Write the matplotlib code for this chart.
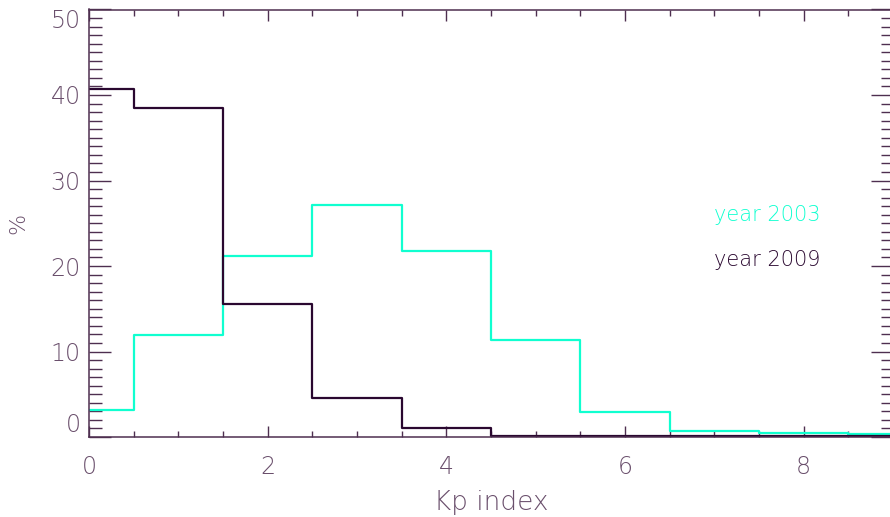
import matplotlib
matplotlib.use("Agg")
import matplotlib.pyplot as plt
from matplotlib.ticker import MultipleLocator

kp = [0, 1, 2, 3, 4, 5, 6, 7, 8, 9]
pct_2003 = [3.2, 11.9, 21.2, 27.1, 21.7, 11.3, 2.9, 0.75, 0.5, 0.35]
pct_2009 = [40.7, 38.5, 15.6, 4.6, 1.05, 0.15, 0.15, 0.15, 0.15, 0.15]
xticks = [0, 2, 4, 6, 8]
yticks = [0, 10, 20, 30, 40, 50]
labels = ["year 2003", "year 2009"]

axis_col = "#4e2f50"
text_col = "#6a4f6c"
c2003 = "#10ffd0"
c2009 = "#2a0830"

plt.rcParams['font.family'] = ['DejaVu Sans']

fig = plt.figure(figsize=(8.9, 5.17), dpi=100)
ax = fig.add_axes([89/890, 1 - 437/517, (893 - 89)/890, (437 - 9.5)/517])

ax.step(kp, pct_2003, where='mid', color=c2003, lw=1.6)
ax.step(kp, pct_2009, where='mid', color=c2009, lw=1.6)

ax.set_xlim(0, 9)
ax.set_ylim(0, 50)
ax.xaxis.set_major_locator(MultipleLocator(2))
ax.xaxis.set_minor_locator(MultipleLocator(0.5))
ax.yaxis.set_major_locator(MultipleLocator(10))
ax.yaxis.set_minor_locator(MultipleLocator(1))
ax.set_xticks(xticks)
ax.set_yticks(yticks)
ax.tick_params(which='both', direction='in', top=True, right=True, color=axis_col, width=1.0,
               labelcolor=text_col, labelsize=17)
ax.tick_params(axis='x', which='major', length=8, pad=13)
ax.tick_params(axis='x', which='minor', length=4)
ax.tick_params(axis='y', which='major', length=16, pad=6)
ax.tick_params(axis='y', which='minor', length=9)
for lab in ax.get_xticklabels() + ax.get_yticklabels():
    lab.set_fontweight('light')
ylabs = ax.get_yticklabels()
ylabs[0].set_va('bottom')
ylabs[-1].set_va('top')
for s in ax.spines.values():
    s.set_color(axis_col)
    s.set_linewidth(1.1)

ax.set_xlabel("Kp index", color=text_col, fontsize=19, fontweight='light', labelpad=8)
ax.set_ylabel("%", color=text_col, fontsize=16, fontweight='light')
ax.yaxis.set_label_coords(-0.076, 0.5)

ax.text(7.0, 26.0, labels[0], color=c2003, fontsize=15, fontweight='light', va='center', ha='left')
ax.text(7.0, 20.7, labels[1], color=c2009, fontsize=15, fontweight='light', va='center', ha='left')

fig.savefig("out.png", dpi=100)
